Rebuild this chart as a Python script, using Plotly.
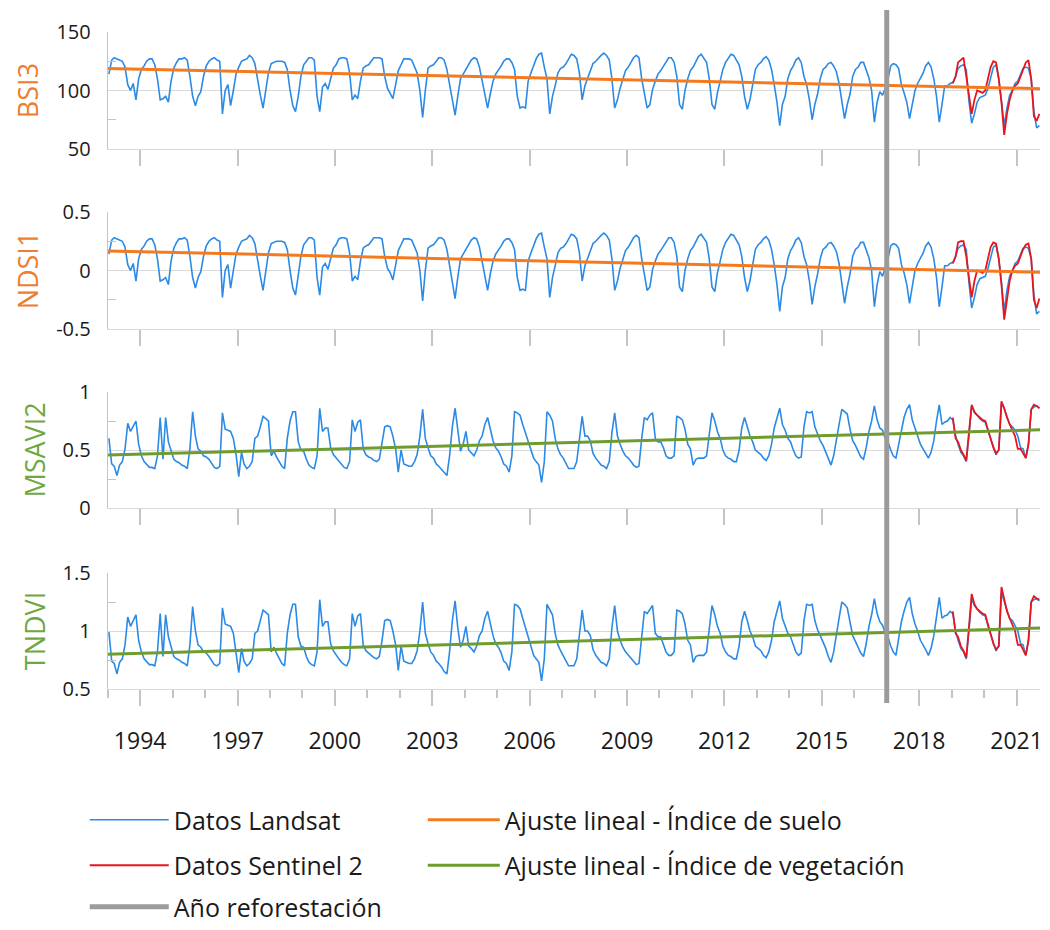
import pandas as pd
import plotly.graph_objects as go

# ---------------- data ----------------
year_ticks = [1994, 1997, 2000, 2003, 2006, 2009, 2012, 2015, 2018, 2021]
reforestation_date = "2017-01-01"
x_range = ["1993-01-01", "2021-09-22"]
fit_dates = ["1993-01-01", "2021-09-22"]

# monthly Landsat values, Jan 1993 .. Sep 2021
bsi3_landsat = [
    114, 126, 128, 127, 126, 125, 120, 105, 100, 106, 92, 110,   # 1993
    118, 121, 125, 127, 127, 122, 110, 92, 93, 95, 90, 108,      # 1994
    119, 124, 127, 127, 128, 126, 112, 95, 87, 95, 99, 112,      # 1995
    121, 125, 127, 128, 126, 125, 80, 100, 105, 87, 100, 114,    # 1996
    120, 125, 126, 127, 130, 128, 123, 108, 96, 85, 101, 115,    # 1997
    123, 124, 125, 125, 125, 124, 118, 100, 87, 82, 95, 112,     # 1998
    122, 125, 128, 128, 126, 95, 82, 103, 106, 101, 110, 119,    # 1999
    122, 127, 128, 128, 127, 115, 92, 96, 93, 108, 119, 121,     # 2000
    122, 125, 128, 128, 128, 127, 112, 102, 98, 93, 105, 117,    # 2001
    122, 127, 127, 127, 126, 120, 115, 100, 77, 100, 119, 121,   # 2002
    122, 125, 128, 128, 126, 118, 105, 92, 79, 95, 110, 114,     # 2003
    118, 122, 126, 128, 127, 120, 108, 95, 85, 97, 108, 114,     # 2004
    117, 121, 125, 127, 127, 124, 118, 95, 85, 86, 85, 108,      # 2005
    115, 121, 127, 131, 132, 120, 110, 80, 95, 104, 115, 119,    # 2006
    120, 123, 127, 131, 130, 127, 115, 92, 104, 110, 117, 123,   # 2007
    125, 128, 130, 132, 130, 126, 110, 85, 92, 102, 110, 117,    # 2008
    120, 124, 128, 130, 128, 110, 97, 85, 88, 101, 108, 114,     # 2009
    117, 121, 125, 128, 128, 124, 112, 88, 84, 100, 110, 117,    # 2010
    120, 125, 129, 131, 128, 124, 110, 88, 84, 98, 108, 118,     # 2011
    124, 128, 131, 130, 126, 122, 112, 95, 84, 92, 105, 118,     # 2012
    122, 124, 127, 129, 126, 118, 105, 90, 70, 88, 95, 110,      # 2013
    117, 121, 126, 128, 124, 112, 105, 92, 75, 88, 97, 110,      # 2014
    118, 120, 123, 124, 121, 116, 106, 90, 76, 88, 97, 112,      # 2015
    118, 120, 124, 124, 118, 111, 100, 73, 90, 99, 96, 102,      # 2016
    110, 121, 123, 122, 119, 105, 98, 90, 76, 88, 100, 106,      # 2017
    110, 115, 121, 124, 120, 110, 95, 73, 88, 104, 104, 106,     # 2018
    107, 112, 119, 121, 122, 118, 91, 72, 80, 90, 94, 95,        # 2019
    96, 102, 112, 120, 122, 110, 91, 70, 85, 96, 100, 106,       # 2020
    108, 114, 119, 120, 119, 110, 82, 68, 70,                    # 2021
]

ndsi1_landsat = [
    0.14, 0.26, 0.28, 0.27, 0.26, 0.25, 0.20, 0.05, 0.00, 0.06, -0.09, 0.10,
    0.18, 0.21, 0.25, 0.27, 0.27, 0.22, 0.10, -0.09, -0.08, -0.06, -0.12, 0.08,
    0.19, 0.24, 0.27, 0.27, 0.28, 0.26, 0.12, -0.06, -0.15, -0.06, -0.01, 0.12,
    0.21, 0.25, 0.27, 0.28, 0.26, 0.25, -0.23, 0.00, 0.05, -0.15, 0.00, 0.14,
    0.20, 0.25, 0.26, 0.27, 0.30, 0.28, 0.23, 0.08, -0.05, -0.17, 0.01, 0.15,
    0.23, 0.24, 0.25, 0.25, 0.25, 0.24, 0.18, 0.00, -0.15, -0.21, -0.06, 0.12,
    0.22, 0.25, 0.28, 0.28, 0.26, -0.06, -0.21, 0.03, 0.06, 0.01, 0.10, 0.19,
    0.22, 0.27, 0.28, 0.28, 0.27, 0.15, -0.09, -0.05, -0.08, 0.08, 0.19, 0.21,
    0.22, 0.25, 0.28, 0.28, 0.28, 0.27, 0.12, 0.02, -0.02, -0.08, 0.05, 0.17,
    0.22, 0.27, 0.27, 0.27, 0.26, 0.20, 0.15, 0.00, -0.26, 0.00, 0.19, 0.21,
    0.22, 0.25, 0.28, 0.28, 0.26, 0.18, 0.05, -0.09, -0.24, -0.06, 0.10, 0.14,
    0.18, 0.22, 0.26, 0.28, 0.27, 0.20, 0.08, -0.06, -0.17, -0.03, 0.08, 0.14,
    0.17, 0.21, 0.25, 0.27, 0.27, 0.24, 0.18, -0.06, -0.17, -0.16, -0.17, 0.08,
    0.15, 0.21, 0.27, 0.31, 0.32, 0.20, 0.10, -0.23, -0.06, 0.04, 0.15, 0.19,
    0.20, 0.23, 0.27, 0.31, 0.30, 0.27, 0.15, -0.09, 0.04, 0.10, 0.17, 0.23,
    0.25, 0.28, 0.30, 0.32, 0.30, 0.26, 0.10, -0.17, -0.09, 0.02, 0.10, 0.17,
    0.20, 0.24, 0.28, 0.30, 0.28, 0.10, -0.03, -0.17, -0.14, 0.01, 0.08, 0.14,
    0.17, 0.21, 0.25, 0.28, 0.28, 0.24, 0.12, -0.14, -0.18, 0.00, 0.10, 0.17,
    0.20, 0.25, 0.29, 0.31, 0.28, 0.24, 0.10, -0.14, -0.18, -0.02, 0.08, 0.18,
    0.24, 0.28, 0.31, 0.30, 0.26, 0.22, 0.12, -0.06, -0.18, -0.09, 0.05, 0.18,
    0.22, 0.24, 0.27, 0.29, 0.26, 0.18, 0.05, -0.12, -0.35, -0.14, -0.06, 0.10,
    0.17, 0.21, 0.26, 0.28, 0.24, 0.12, 0.05, -0.09, -0.29, -0.14, -0.03, 0.10,
    0.18, 0.20, 0.23, 0.24, 0.21, 0.16, 0.06, -0.12, -0.28, -0.14, -0.03, 0.12,
    0.18, 0.20, 0.24, 0.24, 0.18, 0.11, 0.00, -0.31, -0.12, -0.01, -0.05, 0.02,
    0.10, 0.21, 0.23, 0.22, 0.19, 0.05, -0.02, -0.12, -0.28, -0.14, 0.00, 0.06,
    0.10, 0.15, 0.21, 0.24, 0.20, 0.10, -0.06, -0.31, -0.14, 0.04, 0.04, 0.06,
    0.07, 0.12, 0.19, 0.21, 0.22, 0.18, -0.10, -0.32, -0.23, -0.12, -0.07, -0.06,
    -0.05, 0.02, 0.12, 0.20, 0.22, 0.10, -0.10, -0.35, -0.17, -0.05, 0.00, 0.06,
    0.08, 0.14, 0.19, 0.20, 0.19, 0.10, -0.21, -0.37, -0.35,
]

msavi2_landsat = [
    0.60, 0.38, 0.36, 0.28, 0.37, 0.40, 0.51, 0.73, 0.66, 0.70, 0.75, 0.55,
    0.45, 0.40, 0.38, 0.35, 0.35, 0.34, 0.45, 0.78, 0.42, 0.78, 0.57, 0.49,
    0.42, 0.40, 0.39, 0.37, 0.36, 0.34, 0.51, 0.83, 0.62, 0.51, 0.49, 0.45,
    0.44, 0.42, 0.38, 0.35, 0.34, 0.36, 0.82, 0.68, 0.67, 0.66, 0.60, 0.46,
    0.27, 0.48, 0.38, 0.34, 0.36, 0.40, 0.60, 0.62, 0.70, 0.79, 0.77, 0.75,
    0.45, 0.49, 0.44, 0.40, 0.36, 0.34, 0.60, 0.75, 0.83, 0.83, 0.57, 0.50,
    0.49, 0.42, 0.37, 0.35, 0.34, 0.45, 0.86, 0.66, 0.69, 0.69, 0.52, 0.46,
    0.43, 0.40, 0.37, 0.35, 0.34, 0.40, 0.76, 0.66, 0.74, 0.76, 0.51, 0.46,
    0.44, 0.43, 0.41, 0.40, 0.42, 0.55, 0.70, 0.71, 0.70, 0.62, 0.51, 0.31,
    0.50, 0.38, 0.37, 0.36, 0.36, 0.40, 0.46, 0.62, 0.85, 0.60, 0.52, 0.45,
    0.43, 0.38, 0.36, 0.33, 0.30, 0.28, 0.45, 0.70, 0.86, 0.65, 0.49, 0.55,
    0.66, 0.50, 0.48, 0.45, 0.50, 0.58, 0.62, 0.72, 0.78, 0.68, 0.58, 0.52,
    0.49, 0.44, 0.38, 0.36, 0.31, 0.45, 0.83, 0.82, 0.80, 0.72, 0.65, 0.57,
    0.50, 0.43, 0.40, 0.37, 0.22, 0.40, 0.83, 0.80, 0.75, 0.60, 0.51, 0.46,
    0.43, 0.38, 0.34, 0.34, 0.34, 0.40, 0.60, 0.79, 0.62, 0.62, 0.58, 0.47,
    0.43, 0.40, 0.37, 0.36, 0.34, 0.40, 0.65, 0.82, 0.62, 0.55, 0.49, 0.45,
    0.43, 0.40, 0.37, 0.35, 0.36, 0.60, 0.78, 0.76, 0.80, 0.82, 0.60, 0.57,
    0.57, 0.52, 0.45, 0.43, 0.43, 0.45, 0.79, 0.78, 0.76, 0.68, 0.55, 0.51,
    0.37, 0.42, 0.43, 0.43, 0.43, 0.45, 0.62, 0.82, 0.75, 0.66, 0.60, 0.50,
    0.45, 0.43, 0.42, 0.40, 0.40, 0.50, 0.69, 0.78, 0.70, 0.62, 0.57, 0.50,
    0.48, 0.46, 0.43, 0.41, 0.45, 0.55, 0.69, 0.78, 0.86, 0.72, 0.67, 0.60,
    0.57, 0.50, 0.45, 0.43, 0.44, 0.70, 0.83, 0.82, 0.83, 0.70, 0.63, 0.58,
    0.54, 0.48, 0.42, 0.37, 0.45, 0.60, 0.72, 0.85, 0.83, 0.81, 0.68, 0.58,
    0.54, 0.48, 0.44, 0.42, 0.52, 0.66, 0.75, 0.88, 0.76, 0.69, 0.67, 0.60,
    0.57, 0.50, 0.45, 0.43, 0.55, 0.69, 0.78, 0.85, 0.89, 0.76, 0.68, 0.62,
    0.55, 0.51, 0.47, 0.43, 0.48, 0.58, 0.75, 0.89, 0.72, 0.74, 0.75, 0.78,
    0.76, 0.62, 0.55, 0.48, 0.45, 0.40, 0.62, 0.88, 0.82, 0.80, 0.77, 0.75,
    0.74, 0.66, 0.60, 0.53, 0.46, 0.50, 0.90, 0.86, 0.78, 0.72, 0.70, 0.67,
    0.62, 0.52, 0.51, 0.43, 0.55, 0.85, 0.87, 0.88, 0.86,
]

tndvi_landsat = [
    0.99, 0.74, 0.72, 0.63, 0.73, 0.76, 0.88, 1.12, 1.04, 1.09, 1.14, 0.92,
    0.82, 0.76, 0.74, 0.71, 0.71, 0.70, 0.82, 1.15, 0.78, 1.14, 0.95, 0.86,
    0.78, 0.76, 0.75, 0.73, 0.72, 0.70, 0.88, 1.21, 1.00, 0.88, 0.86, 0.82,
    0.81, 0.78, 0.74, 0.71, 0.70, 0.72, 1.20, 1.06, 1.05, 1.04, 0.98, 0.83,
    0.64, 0.85, 0.74, 0.70, 0.72, 0.76, 0.98, 1.00, 1.09, 1.18, 1.16, 1.14,
    0.82, 0.86, 0.81, 0.76, 0.72, 0.70, 0.98, 1.14, 1.23, 1.23, 0.95, 0.87,
    0.86, 0.78, 0.73, 0.71, 0.70, 0.82, 1.27, 1.04, 1.08, 1.08, 0.89, 0.83,
    0.79, 0.76, 0.73, 0.71, 0.70, 0.76, 1.15, 1.04, 1.13, 1.15, 0.88, 0.83,
    0.81, 0.79, 0.77, 0.76, 0.78, 0.92, 1.09, 1.10, 1.09, 1.00, 0.88, 0.66,
    0.87, 0.74, 0.73, 0.72, 0.72, 0.76, 0.83, 1.00, 1.25, 0.98, 0.89, 0.82,
    0.79, 0.74, 0.72, 0.69, 0.65, 0.63, 0.82, 1.09, 1.26, 1.03, 0.86, 0.92,
    1.04, 0.87, 0.85, 0.82, 0.87, 0.96, 1.00, 1.11, 1.17, 1.06, 0.96, 0.89,
    0.86, 0.81, 0.74, 0.72, 0.66, 0.82, 1.23, 1.22, 1.19, 1.11, 1.03, 0.95,
    0.87, 0.79, 0.76, 0.73, 0.57, 0.76, 1.23, 1.19, 1.14, 0.98, 0.88, 0.83,
    0.79, 0.74, 0.70, 0.70, 0.70, 0.76, 0.98, 1.18, 1.00, 1.00, 0.96, 0.84,
    0.79, 0.76, 0.73, 0.72, 0.70, 0.76, 1.03, 1.22, 1.00, 0.92, 0.86, 0.82,
    0.79, 0.76, 0.73, 0.71, 0.72, 0.98, 1.17, 1.15, 1.19, 1.22, 0.98, 0.95,
    0.95, 0.89, 0.82, 0.79, 0.79, 0.82, 1.18, 1.17, 1.15, 1.06, 0.92, 0.88,
    0.73, 0.78, 0.79, 0.79, 0.79, 0.82, 1.00, 1.22, 1.14, 1.04, 0.98, 0.87,
    0.82, 0.79, 0.78, 0.76, 0.76, 0.87, 1.08, 1.17, 1.09, 1.00, 0.95, 0.87,
    0.85, 0.83, 0.79, 0.77, 0.82, 0.92, 1.08, 1.17, 1.26, 1.11, 1.05, 0.98,
    0.95, 0.87, 0.82, 0.79, 0.81, 1.09, 1.23, 1.22, 1.23, 1.09, 1.01, 0.96,
    0.91, 0.85, 0.78, 0.73, 0.82, 0.98, 1.11, 1.25, 1.23, 1.20, 1.06, 0.96,
    0.91, 0.85, 0.81, 0.78, 0.89, 1.04, 1.14, 1.28, 1.15, 1.08, 1.05, 0.98,
    0.95, 0.87, 0.82, 0.79, 0.92, 1.08, 1.17, 1.25, 1.29, 1.15, 1.06, 1.00,
    0.92, 0.88, 0.84, 0.79, 0.85, 0.96, 1.14, 1.29, 1.11, 1.13, 1.14, 1.17,
    1.15, 1.00, 0.92, 0.85, 0.82, 0.76, 1.00, 1.28, 1.22, 1.19, 1.16, 1.14,
    1.13, 1.04, 0.98, 0.90, 0.83, 0.87, 1.33, 1.26, 1.17, 1.11, 1.09, 1.05,
    1.00, 0.89, 0.88, 0.79, 0.92, 1.25, 1.27, 1.28, 1.26,
]

# monthly Sentinel 2 values, Jan 2019 .. Sep 2021
bsi3_sentinel = [
    106, 112, 124, 126, 128, 112, 95, 80, 92, 100, 99, 98,
    100, 112, 120, 125, 124, 110, 90, 62, 80, 92, 100, 104,
    106, 112, 118, 124, 126, 110, 78, 74, 80,
]
ndsi1_sentinel = [
    0.06, 0.12, 0.24, 0.25, 0.25, 0.12, -0.06, -0.23, -0.09, 0.00, -0.01, -0.02,
    0.00, 0.12, 0.20, 0.24, 0.23, 0.10, -0.12, -0.42, -0.23, -0.09, 0.00, 0.04,
    0.06, 0.12, 0.18, 0.22, 0.23, 0.10, -0.25, -0.32, -0.24,
]
msavi2_sentinel = [
    0.78, 0.60, 0.57, 0.50, 0.46, 0.41, 0.65, 0.89, 0.83, 0.80, 0.78, 0.76,
    0.75, 0.67, 0.60, 0.52, 0.47, 0.50, 0.92, 0.86, 0.78, 0.72, 0.67, 0.62,
    0.51, 0.51, 0.47, 0.43, 0.55, 0.85, 0.89, 0.88, 0.86,
]
tndvi_sentinel = [
    1.17, 0.98, 0.95, 0.87, 0.83, 0.77, 1.03, 1.32, 1.23, 1.19, 1.17, 1.15,
    1.14, 1.05, 0.98, 0.89, 0.84, 0.87, 1.38, 1.27, 1.17, 1.11, 1.05, 1.00,
    0.88, 0.88, 0.84, 0.79, 0.92, 1.25, 1.30, 1.28, 1.27,
]

# linear fits (start / end values)
bsi3_fit = [118.7, 101.6]
ndsi1_fit = [0.167, -0.016]
msavi2_fit = [0.456, 0.674]
tndvi_fit = [0.80, 1.025]

# axis ticks
bsi3_ticks = [50, 100, 150]
bsi3_ticktext = ["50", "100", "150"]
ndsi1_ticks = [-0.5, 0, 0.5]
ndsi1_ticktext = ["-0.5", "0", "0.5"]
msavi2_ticks = [0, 0.5, 1]
msavi2_ticktext = ["0", "0.5", "1"]
tndvi_ticks = [0.5, 1, 1.5]
tndvi_ticktext = ["0.5", "1", "1.5"]

# ---------------- styling ----------------
FONT = "Open Sans"
TXT = "#1a1a1a"
BLUE = "#2b8ae6"
RED = "#e8161c"
ORANGE = "#f57a1f"
GREEN = "#6e9c2f"
ORANGE_T = "#ee7d2e"
GREEN_T = "#6fa83f"
GRID = "#d9d9d9"
AXIS = "#c4c4c4"
W, H = 1050, 930

landsat_dates = pd.date_range("1993-01-01", periods=len(bsi3_landsat), freq="MS") + pd.Timedelta(days=14)
sentinel_dates = pd.date_range("2019-01-01", periods=len(bsi3_sentinel), freq="MS") + pd.Timedelta(days=14)
tick_dates = [f"{y}-01-01" for y in year_ticks]

# panel pixel extents (top, bottom)
panel_px = [(32, 149), (212, 329), (392, 508), (573, 689)]
x_dom = [108 / W, 1043 / W]

panels = [
    dict(name="BSI3", l=bsi3_landsat, s=bsi3_sentinel, fit=bsi3_fit, ticks=bsi3_ticks,
         ttext=bsi3_ticktext, minor=[75, 125], fitc=ORANGE, tc=ORANGE_T, soil=True),
    dict(name="NDSI1", l=ndsi1_landsat, s=ndsi1_sentinel, fit=ndsi1_fit, ticks=ndsi1_ticks,
         ttext=ndsi1_ticktext, minor=[-0.25, 0.25], fitc=ORANGE, tc=ORANGE_T, soil=True),
    dict(name="MSAVI2", l=msavi2_landsat, s=msavi2_sentinel, fit=msavi2_fit, ticks=msavi2_ticks,
         ttext=msavi2_ticktext, minor=[0.25, 0.75], fitc=GREEN, tc=GREEN_T, soil=False),
    dict(name="TNDVI", l=tndvi_landsat, s=tndvi_sentinel, fit=tndvi_fit, ticks=tndvi_ticks,
         ttext=tndvi_ticktext, minor=[0.75, 1.25], fitc=GREEN, tc=GREEN_T, soil=False),
]

fig = go.Figure()
layout = {}
for i, p in enumerate(panels):
    k = i + 1
    xa = "x" if k == 1 else f"x{k}"
    ya = "y" if k == 1 else f"y{k}"
    fig.add_trace(go.Scatter(
        x=landsat_dates, y=p["l"], xaxis=xa, yaxis=ya, mode="lines",
        line=dict(color=BLUE, width=1.6), name="Datos Landsat",
        legend="legend", legendgroup="landsat", legendrank=1, showlegend=(k == 1)))
    fig.add_trace(go.Scatter(
        x=sentinel_dates, y=p["s"], xaxis=xa, yaxis=ya, mode="lines",
        line=dict(color=RED, width=1.8), name="Datos Sentinel 2",
        legend="legend", legendgroup="sentinel", legendrank=2, showlegend=(k == 1)))
    if p["soil"]:
        fit_name, grp, show = "Ajuste lineal - Índice de suelo", "fitsoil", k == 1
    else:
        fit_name, grp, show = "Ajuste lineal - Índice de vegetación", "fitveg", k == 3
    fig.add_trace(go.Scatter(
        x=fit_dates, y=p["fit"], xaxis=xa, yaxis=ya, mode="lines",
        line=dict(color=p["fitc"], width=3), name=fit_name,
        legend="legend2", legendgroup=grp, legendrank=1 if p["soil"] else 2, showlegend=show))

    top, bot = panel_px[i]
    last = (k == 4)
    xdict = dict(
        domain=x_dom, anchor=ya, type="date", range=x_range,
        showgrid=False, zeroline=False, showline=True, linecolor=GRID, linewidth=1,
        tickmode="array", tickvals=tick_dates, ticktext=[str(y) for y in year_ticks],
        ticks="outside", ticklen=16, tickwidth=1.5, tickcolor=AXIS,
        showticklabels=last, tickfont=dict(family=FONT, size=23, color=TXT),
    )
    if k > 1:
        xdict["matches"] = "x"
    if last:
        xdict["ticklabelstandoff"] = 15
        xdict["minor"] = dict(ticks="outside", ticklen=8, tickwidth=1.5, tickcolor=AXIS,
                              dtick="M12", tick0="1993-01-01", showgrid=False)
    layout["xaxis" if k == 1 else f"xaxis{k}"] = xdict

    layout["yaxis" if k == 1 else f"yaxis{k}"] = dict(
        domain=[1 - bot / H, 1 - top / H], anchor=xa,
        range=[p["ticks"][0], p["ticks"][-1]],
        tickmode="array", tickvals=p["ticks"], ticktext=p["ttext"],
        showgrid=True, gridcolor=GRID, gridwidth=1, zeroline=False,
        showline=True, linecolor=AXIS, linewidth=1, ticks="",
        ticklabelstandoff=12,
        tickfont=dict(family=FONT, size=20, color=TXT),
        minor=dict(ticks="inside", ticklen=8, tickcolor=AXIS, tickwidth=1,
                   tickmode="array", tickvals=p["minor"], showgrid=False),
        title=dict(text=p["name"], font=dict(family=FONT, size=27, color=p["tc"]), standoff=9),
        automargin=False,
    )

fig.update_layout(**layout)

fig.add_shape(
    type="line", xref="x", yref="paper",
    x0=reforestation_date, x1=reforestation_date,
    y0=1 - 703 / H, y1=1 - 10 / H,
    line=dict(color="#9b9b9b", width=5), layer="above",
    name="Año reforestación", showlegend=True, legend="legend3",
    legendgroup="refo", legendrank=1,
)

legend_common = dict(
    orientation="v", xanchor="left", yanchor="top",
    font=dict(family=FONT, size=25, color=TXT),
    bgcolor="rgba(0,0,0,0)", borderwidth=0,
    tracegroupgap=10, traceorder="grouped",
    itemclick=False, itemdoubleclick=False,
)

fig.update_layout(
    width=W, height=H,
    margin=dict(l=0, r=0, t=0, b=0, pad=0),
    paper_bgcolor="white", plot_bgcolor="white",
    font=dict(family=FONT, color=TXT),
    legend=dict(x=85 / W, y=1 - 797 / H, itemwidth=79, **legend_common),
    legend2=dict(x=424 / W, y=1 - 797 / H, itemwidth=72, **legend_common),
    legend3=dict(x=85 / W, y=1 - 884 / H, itemwidth=79, **legend_common),
)

fig.write_html("out.html")
